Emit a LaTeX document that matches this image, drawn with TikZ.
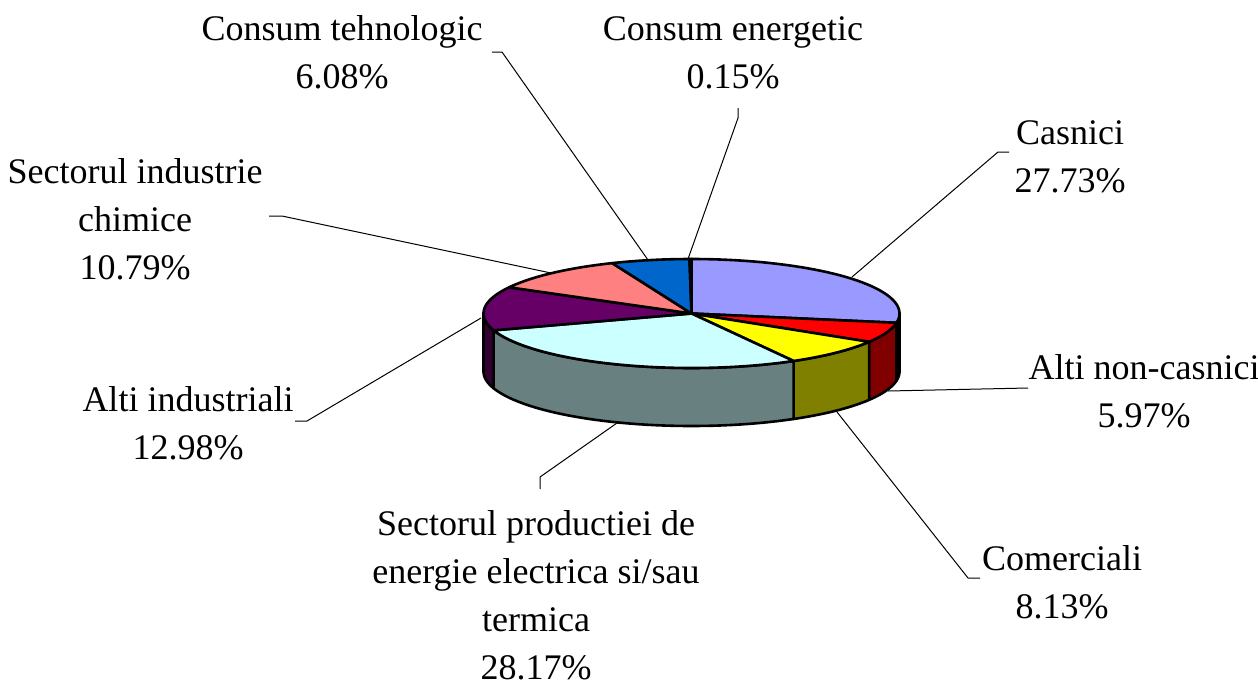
\documentclass[tikz,border=0pt]{standalone}
\usepackage{fontspec}
\setmainfont{Liberation Serif}
\usepackage{tikz}

\definecolor{casnici}{HTML}{9999FF}
\definecolor{casniciD}{HTML}{4D4D80}
\definecolor{noncas}{HTML}{FF0000}
\definecolor{noncasD}{HTML}{800000}
\definecolor{comerc}{HTML}{FFFF00}
\definecolor{comercD}{HTML}{808000}
\definecolor{product}{HTML}{CCFFFF}
\definecolor{productD}{HTML}{688080}
\definecolor{industr}{HTML}{660066}
\definecolor{industrD}{HTML}{330033}
\definecolor{chimice}{HTML}{FF8080}
\definecolor{tehnol}{HTML}{0066CC}
\definecolor{energ}{HTML}{FFFFFF}

\tikzset{
  lbl/.style={font=\fontsize{18}{24}\selectfont, align=center, anchor=base, inner sep=0pt},
  leader/.style={black, line width=0.5pt},
  rim/.style={draw=black, line width=1.3pt, line join=round}
}

\begin{document}
\begin{tikzpicture}[x=0.5pt, y=-0.5pt]
    \useasboundingbox (0,0) rectangle (1258,686);

    % Define the center, radii and depth of the pie
    \def\cx{691.5}
    \def\cy{313.5}
    \def\rx{208}
    \def\ry{54.5}
    \def\dep{58}

    % Draw the visible front rim
    \foreach \a/\b/\col in {90/99.828/casniciD, 99.828/121.32/noncasD, 121.32/150.588/comercD, 150.588/252/productD, 252/270/industrD} {
        \filldraw[rim, fill=\col] plot[domain=\a:\b, samples=40] ({\cx+\rx*sin(\x)},{\cy-\ry*cos(\x)})
            -- plot[domain=\b:\a, samples=40] ({\cx+\rx*sin(\x)},{\cy+\dep-\ry*cos(\x)}) -- cycle;
    }

    % Draw the top of each slice
    \foreach \a/\b/\col in {0/99.828/casnici, 99.828/121.32/noncas, 121.32/150.588/comerc, 150.588/252/product, 252/298.728/industr, 298.728/337.572/chimice, 337.572/359.46/tehnol, 359.46/360/energ} {
        \filldraw[rim, fill=\col] (\cx,\cy) -- plot[domain=\a:\b, samples=60] ({\cx+\rx*sin(\x)},{\cy-\ry*cos(\x)}) -- cycle;
    }

    % Add slice labels (placed at the baseline of the last line)
    \node[lbl] (lTehnol) at (342,88) {Consum tehnologic\\6.08\%};
    \node[lbl] (lEnerg) at (733,88) {Consum energetic\\0.15\%};
    \node[lbl] (lCasnici) at (1070,192) {Casnici\\27.73\%};
    \node[lbl] (lChimice) at (135,279) {Sectorul industrie\\chimice\\10.79\%};
    \node[lbl] (lNoncas) at (1144,427) {Alti non-casnici\\5.97\%};
    \node[lbl] (lIndustr) at (188,459) {Alti industriali\\12.98\%};
    \node[lbl] (lProduct) at (536,679) {Sectorul productiei de\\energie electrica si/sau\\termica\\28.17\%};
    \node[lbl] (lComerc) at (1062,618) {Comerciali\\8.13\%};

    % Leader lines from labels to slices
    \coordinate (sTehnol) at (492,52);  \coordinate (kTehnol) at (502,52);  \coordinate (pTehnol) at (648,260);
    \coordinate (sEnerg) at (738,108);  \coordinate (kEnerg) at (738,118);  \coordinate (pEnerg) at (688,259);
    \coordinate (sCasnici) at (1009,152); \coordinate (kCasnici) at (998,152); \coordinate (pCasnici) at (852,277);
    \coordinate (sChimice) at (269,216); \coordinate (kChimice) at (282,216); \coordinate (pChimice) at (551,273);
    \coordinate (sNoncas) at (1028,388); \coordinate (pNoncas) at (888,391);
    \coordinate (sIndustr) at (295,421); \coordinate (kIndustr) at (307,421); \coordinate (pIndustr) at (481,318);
    \coordinate (sProduct) at (540,489); \coordinate (kProduct) at (540,477); \coordinate (pProduct) at (617,423);
    \coordinate (sComerc) at (980,578); \coordinate (kComerc) at (968,578); \coordinate (pComerc) at (837,412);

    \draw[leader] (sTehnol) -- (kTehnol) -- (pTehnol);
    \draw[leader] (sEnerg) -- (kEnerg) -- (pEnerg);
    \draw[leader] (sCasnici) -- (kCasnici) -- (pCasnici);
    \draw[leader] (sChimice) -- (kChimice) -- (pChimice);
    \draw[leader] (sNoncas) -- (pNoncas);
    \draw[leader] (sIndustr) -- (kIndustr) -- (pIndustr);
    \draw[leader] (sProduct) -- (kProduct) -- (pProduct);
    \draw[leader] (sComerc) -- (kComerc) -- (pComerc);
\end{tikzpicture}
\end{document}
